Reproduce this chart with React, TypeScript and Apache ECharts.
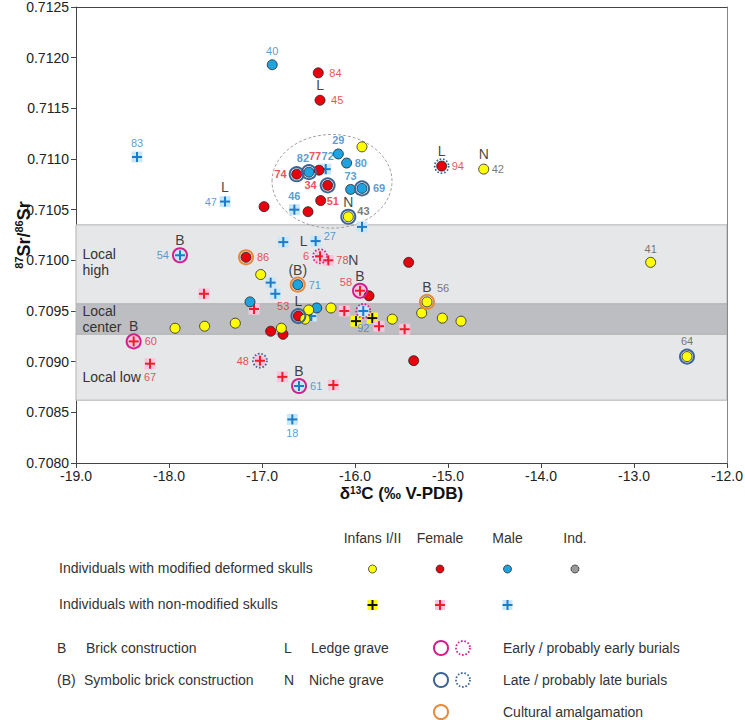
import React, { useEffect, useRef } from 'react';
import * as echarts from 'echarts';

type Pt = [number, number, string?];

// ---- data (x = δ13C, y = 87Sr/86Sr, optional sample id) ----
const yellowCircles: Pt[] = [
  [-15.925, 0.71112],
  [-16.072, 0.71043, '43'],
  [-14.616, 0.7109, '42'],
  [-17.014, 0.70986],
  [-17.935, 0.70933],
  [-17.617, 0.70935],
  [-17.287, 0.70938],
  [-16.792, 0.70933],
  [-15.226, 0.70959, '56'],
  [-16.498, 0.70951],
  [-16.538, 0.70942],
  [-16.258, 0.70953],
  [-15.599, 0.70942],
  [-15.283, 0.70948],
  [-15.061, 0.70943],
  [-14.86, 0.7094],
  [-12.821, 0.70998, '41'],
  [-12.43, 0.70905, '64'],
];

const redCircles: Pt[] = [
  [-16.978, 0.71053],
  [-16.395, 0.71185, '84'],
  [-16.376, 0.71158, '45'],
  [-16.387, 0.71089, '77'],
  [-16.627, 0.71085, '74'],
  [-16.294, 0.71074, '34'],
  [-16.369, 0.71059, '51'],
  [-16.505, 0.71048],
  [-15.068, 0.71093, '94'],
  [-17.172, 0.71003, '86'],
  [-15.423, 0.70998],
  [-15.849, 0.70965],
  [-16.609, 0.70945, '53'],
  [-16.907, 0.7093],
  [-16.774, 0.70927],
  [-15.369, 0.70901],
];

const blueCircles: Pt[] = [
  [-16.89, 0.71193, '40'],
  [-16.179, 0.71105, '29'],
  [-16.09, 0.71096, '80'],
  [-16.495, 0.71087, '82'],
  [-16.047, 0.7107, '73'],
  [-15.925, 0.71071, '69'],
  [-16.616, 0.70976, '71'],
  [-17.129, 0.70959],
  [-16.412, 0.70953],
];

const yellowCrosses: Pt[] = [
  [-15.989, 0.7094],
  [-15.814, 0.70943],
];

const redCrosses: Pt[] = [
  [-17.624, 0.70967],
  [-17.086, 0.70952],
  [-18.38, 0.7092, '60'],
  [-18.204, 0.70898, '67'],
  [-17.022, 0.70901, '48'],
  [-16.781, 0.70885],
  [-16.376, 0.71004, '6'],
  [-16.287, 0.71, '78'],
  [-15.946, 0.7097, '58'],
  [-16.115, 0.7095],
  [-15.742, 0.70935],
  [-15.466, 0.70932],
  [-16.233, 0.70877],
];

const blueCrosses: Pt[] = [
  [-18.344, 0.71102, '83'],
  [-17.398, 0.71058, '47'],
  [-16.315, 0.7109, '72'],
  [-16.652, 0.7105, '46'],
  [-15.925, 0.71033],
  [-17.882, 0.71005, '54'],
  [-16.771, 0.71018],
  [-16.907, 0.70978],
  [-16.857, 0.70967],
  [-16.423, 0.71019, '27'],
  [-15.911, 0.7095, '92'],
  [-16.602, 0.70876, '61'],
  [-16.674, 0.70843, '18'],
  [-16.47, 0.70945],
];

// burial chronology (sample ids)
const earlyIds = ['54', '60', '58', '61'];
const probEarlyIds = ['6', '92'];
const lateIds = ['82', '74', '34', '69', '43', '53', '64'];
const probLateIds = ['94', '48'];
const amalgamIds = ['86', '71', '56'];

// grave types (sample ids)
const brickIds = ['54', '60', '58', '61', '56'];
const symbolicBrickIds = ['71'];
const ledgeIds = ['47', '45', '94', '27', '53'];
const nicheIds = ['42', '43', '78'];

// cluster of samples enclosed by the dashed ellipse
const clusterIds = ['29', '80', '82', '77', '72', '74', '34', '73', '69', '51', '46', '43'];
const clusterEllipse = [-16.247, 0.71078, 0.645, 0.000462]; // cx, cy, rx, ry

// local ranges
const bandNames = ['Local\nhigh', 'Local\ncenter', 'Local low'];
const bandFrom = [0.70957, 0.70927, 0.70862];
const bandTo = [0.71035, 0.70957, 0.70927];

const X_MIN = -19, X_MAX = -12, X_STEP = 1;
const Y_MIN = 0.708, Y_MAX = 0.7125, Y_STEP = 0.0005;

// ---- presentation ----
const FONT = 'Arial, "Liberation Sans", Helvetica, sans-serif';
const C_YELLOW = '#ffff00';
const C_RED = '#e8000c';
const C_BLUE = '#1ea3e0';
const C_RED_X = '#ee1c2b';
const C_BLUE_X = '#1d7cc7';
const BG_RED_X = '#f9c5df';
const BG_BLUE_X = '#c9e7fb';
const C_EARLY = '#d51d8d';
const C_LATE = '#3e6597';
const C_AMAL = '#e9893a';

const labelPlace: Record<string, [string, number, number]> = {
  '40': ['top', 0, 0], '83': ['top', 0, 0], '47': ['left', 0, 0], '84': ['right', 3, 0],
  '45': ['right', 3, 0], '29': ['top', 0, 0], '80': ['right', 0, 0], '82': ['top', -6, -1],
  '77': ['top', -4, -1], '72': ['top', 2, 0], '74': ['left', -2, 0], '34': ['left', -3, 0],
  '73': ['top', 0, 0], '69': ['right', 3, 0], '51': ['right', -2, 0], '46': ['top', 0, 0],
  '43': ['right', 1, -6], '94': ['right', 2, 0], '42': ['right', 0, 0], '54': ['left', -3, 0],
  '86': ['right', 3, 0], '27': ['right', 0, -5], '6': ['left', -3, 0], '78': ['right', 0, 0],
  '71': ['right', 3, 0], '58': ['left', 0, -9], '56': ['right', 2, -14], '53': ['left', -1, -10],
  '92': ['bottom', 0, 3], '60': ['right', 3, 0], '67': ['bottom', 0, 0], '48': ['left', -3, 0],
  '61': ['right', 3, 0], '18': ['bottom', 0, 0], '41': ['top', 0, 0], '64': ['top', 0, -2],
};
const letterPlace: Record<string, [string, number, number]> = {
  '27': ['left', 0, 0],
  '78': ['right', 12, 0],
  '43': ['top', 0, 0],
};

const allPts: Pt[] = [
  ...yellowCircles, ...redCircles, ...blueCircles,
  ...yellowCrosses, ...redCrosses, ...blueCrosses,
];
const byId: Record<string, [number, number]> = {};
allPts.forEach((p) => { if (p[2]) byId[p[2]] = [p[0], p[1]]; });

function circleSeries(pts: Pt[], color: string, z: number) {
  return {
    type: 'scatter', z, silent: true,
    symbol: 'circle', symbolSize: 10,
    itemStyle: { color, borderColor: '#222', borderWidth: 0.8, opacity: 1 },
    data: pts.map((p) => [p[0], p[1]]),
  };
}

function crossSeries(pts: Pt[], bg: string, fg: string, z: number) {
  return {
    type: 'custom', coordinateSystem: 'cartesian2d', z, silent: true,
    encode: { x: 0, y: 1 },
    data: pts.map((p) => [p[0], p[1]]),
    renderItem: (_params: any, api: any) => {
      const c = api.coord([api.value(0), api.value(1)]);
      return {
        type: 'group',
        children: [
          { type: 'rect', shape: { x: c[0] - 5.5, y: c[1] - 5.5, width: 11, height: 11 }, style: { fill: bg } },
          { type: 'rect', shape: { x: c[0] - 5, y: c[1] - 1, width: 10, height: 2 }, style: { fill: fg } },
          { type: 'rect', shape: { x: c[0] - 1, y: c[1] - 5, width: 2, height: 10 }, style: { fill: fg } },
        ],
      };
    },
  };
}

function ringSeries(ids: string[], color: string, dotted: boolean) {
  return {
    type: 'scatter', z: 5, silent: true,
    symbol: 'circle', symbolSize: 14,
    itemStyle: {
      color: 'rgba(0,0,0,0)', borderColor: color, borderWidth: dotted ? 1.8 : 2,
      borderType: dotted ? [1.6, 1.8] : 'solid', opacity: 1,
    },
    data: ids.map((id) => byId[id]),
  };
}

function labelItems(pts: Pt[], color: string) {
  return pts.filter((p) => p[2]).map((p) => {
    const id = p[2] as string;
    const pl = labelPlace[id] || ['top', 0, 0];
    return {
      value: [p[0], p[1]],
      label: {
        show: true, formatter: id, position: pl[0], offset: [pl[1], pl[2]], distance: 3,
        color, fontSize: 11, fontFamily: FONT,
        fontWeight: clusterIds.includes(id) ? 'bold' : 'normal',
      },
    };
  });
}

function letterItems(ids: string[], text: string) {
  return ids.map((id) => {
    const pl = letterPlace[id] || ['top', 0, 0];
    return {
      value: byId[id],
      label: {
        show: true, formatter: text, position: pl[0], offset: [pl[1], pl[2]], distance: 3,
        color: '#111', fontSize: 14, fontFamily: FONT,
      },
    };
  });
}

function legendGraphics() {
  const g: any[] = [];
  const txt = (text: string, x: number, y: number, align = 'left') => g.push({
    type: 'text', x, y, silent: true,
    style: { text, fontSize: 14, fontFamily: FONT, fill: '#333', align, verticalAlign: 'middle' },
  });
  const circ = (cx: number, cy: number, fill: string) => g.push({
    type: 'circle', shape: { cx, cy, r: 4 }, style: { fill, stroke: '#333', lineWidth: 0.8 },
  });
  const cross = (cx: number, cy: number, bg: string, fg: string) => {
    g.push({ type: 'rect', shape: { x: cx - 5, y: cy - 5, width: 10, height: 10 }, style: { fill: bg } });
    g.push({ type: 'rect', shape: { x: cx - 5, y: cy - 1, width: 10, height: 2 }, style: { fill: fg } });
    g.push({ type: 'rect', shape: { x: cx - 1, y: cy - 5, width: 2, height: 10 }, style: { fill: fg } });
  };
  const ring = (cx: number, cy: number, stroke: string, dotted: boolean) => g.push({
    type: 'circle', shape: { cx, cy, r: 7 },
    style: { fill: 'none', stroke, lineWidth: dotted ? 1.8 : 2, lineDash: dotted ? [1.6, 1.8] : null },
  });
  const cols = [372.5, 440, 507.5, 575];
  txt('Infans I/II', cols[0], 538, 'center');
  txt('Female', cols[1], 538, 'center');
  txt('Male', cols[2], 538, 'center');
  txt('Ind.', cols[3], 538, 'center');
  txt('Individuals with modified deformed skulls', 59, 568);
  circ(cols[0], 569, C_YELLOW);
  circ(cols[1], 569, C_RED);
  circ(cols[2], 569, C_BLUE);
  circ(cols[3], 569, '#9a9a9a');
  txt('Individuals with non-modified skulls', 59, 604);
  cross(cols[0], 605, C_YELLOW, '#111');
  cross(cols[1], 605, BG_RED_X, C_RED_X);
  cross(cols[2], 605, BG_BLUE_X, C_BLUE_X);
  txt('B', 57, 648);
  txt('Brick construction', 86, 648);
  txt('L', 284, 648);
  txt('Ledge grave', 311, 648);
  ring(441, 648, C_EARLY, false);
  ring(463, 648, C_EARLY, true);
  txt('Early / probably early burials', 503, 648);
  txt('(B)', 57, 680);
  txt('Symbolic brick construction', 84, 680);
  txt('N', 284, 680);
  txt('Niche grave', 309, 680);
  ring(441, 680, C_LATE, false);
  ring(463, 680, C_LATE, true);
  txt('Late / probably late burials', 503, 680);
  ring(441, 712, C_AMAL, false);
  txt('Cultural amalgamation', 503, 712);
  return g;
}

export default function App() {
  const ref = useRef<HTMLDivElement>(null);
  useEffect(() => {
    if (!ref.current) return;
    const chart = echarts.init(ref.current, undefined, { renderer: 'svg' });
    const bandColors = ['#e6e7e8', '#bdbec1', '#e6e7e8'];
    const bandOffsets = [[0, -2], [0, 0], [0, 10]];
    const axisText = { color: '#222', fontSize: 14, fontFamily: FONT };
    chart.setOption({
      animation: false,
      textStyle: { fontFamily: FONT },
      grid: { left: 76, right: 18, top: 7, bottom: 257, containLabel: false, outerBoundsMode: 'none' },
      xAxis: [
        {
          type: 'value', min: X_MIN, max: X_MAX, interval: X_STEP,
          axisLine: { lineStyle: { color: '#444' } },
          axisTick: { show: true, length: 5, lineStyle: { color: '#444' } },
          splitLine: { show: false },
          axisLabel: { ...axisText, margin: 6, formatter: (v: number) => v.toFixed(1) },
          name: '{b|δ}{s|13}{b|C (‰ V-PDB)}',
          nameLocation: 'middle', nameGap: 22, nameMoveOverlap: false,
          nameTextStyle: {
            rich: {
              b: { fontSize: 17, fontWeight: 'bold', color: '#111', fontFamily: FONT, lineHeight: 17 },
              s: { fontSize: 10, fontWeight: 'bold', color: '#111', fontFamily: FONT, verticalAlign: 'top', lineHeight: 17 },
            },
          },
        },
        {
          type: 'value', min: X_MIN, max: X_MAX, position: 'top', z: 10,
          axisLine: { show: true, lineStyle: { color: '#444' } },
          axisTick: { show: false }, axisLabel: { show: false }, splitLine: { show: false },
        },
      ],
      yAxis: [
        {
          type: 'value', min: Y_MIN, max: Y_MAX, interval: Y_STEP,
          axisLine: { show: true, lineStyle: { color: '#444' } },
          axisTick: { show: true, length: 5, lineStyle: { color: '#444' } },
          splitLine: { show: false },
          axisLabel: { ...axisText, lineHeight: 12, margin: 7, formatter: (v: number) => v.toFixed(4) },
          name: '{s|87}{b|Sr/}{s|86}{b|Sr}',
          nameLocation: 'middle', nameGap: 41, nameRotate: 90, nameMoveOverlap: false,
          nameTextStyle: {
            rich: {
              b: { fontSize: 18, fontWeight: 'bold', color: '#111', fontFamily: FONT, lineHeight: 22 },
              s: { fontSize: 11, fontWeight: 'bold', color: '#111', fontFamily: FONT, verticalAlign: 'top', lineHeight: 22 },
            },
          },
        },
        {
          type: 'value', min: Y_MIN, max: Y_MAX, position: 'right', z: 10,
          axisLine: { show: true, lineStyle: { color: '#888' } },
          axisTick: { show: false }, axisLabel: { show: false }, splitLine: { show: false },
        },
      ],
      series: [
        {
          type: 'scatter', z: 1, data: [], silent: true,
          markArea: {
            silent: true,
            data: bandNames.map((name, i) => [
              {
                yAxis: bandFrom[i],
                itemStyle: { color: bandColors[i], borderColor: '#b3b3b3', borderWidth: 1 },
                label: {
                  show: true, formatter: name, position: 'insideLeft', distance: 7,
                  offset: bandOffsets[i], color: '#333', fontSize: 14, lineHeight: 16, fontFamily: FONT,
                },
              },
              { yAxis: bandTo[i] },
            ]),
          },
        },
        {
          type: 'custom', coordinateSystem: 'cartesian2d', z: 2, silent: true,
          encode: { x: 0, y: 1 },
          data: [clusterEllipse],
          renderItem: (_p: any, api: any) => {
            const c = api.coord([api.value(0), api.value(1)]);
            const s = api.size([api.value(2), api.value(3)]);
            return {
              type: 'ellipse',
              shape: { cx: c[0], cy: c[1], rx: s[0], ry: s[1] },
              style: { fill: 'none', stroke: '#8a8a8a', lineWidth: 0.8, lineDash: [3, 2] },
            };
          },
        },
        circleSeries(redCircles, C_RED, 3),
        circleSeries(blueCircles, C_BLUE, 3),
        crossSeries(yellowCrosses, C_YELLOW, '#111', 3),
        crossSeries(redCrosses, BG_RED_X, C_RED_X, 3),
        crossSeries(blueCrosses, BG_BLUE_X, C_BLUE_X, 3),
        circleSeries(yellowCircles, C_YELLOW, 4),
        ringSeries(earlyIds, C_EARLY, false),
        ringSeries(probEarlyIds, C_EARLY, true),
        ringSeries(lateIds, C_LATE, false),
        ringSeries(probLateIds, C_LATE, true),
        ringSeries(amalgamIds, C_AMAL, false),
        {
          type: 'scatter', z: 6, silent: true, symbol: 'circle', symbolSize: 10,
          itemStyle: { color: 'rgba(0,0,0,0)' },
          data: [
            ...labelItems(yellowCircles, '#555'),
            ...labelItems(redCircles, '#e3262b'),
            ...labelItems(blueCircles, '#2f84c6'),
            ...labelItems(redCrosses, '#e3262b'),
            ...labelItems(blueCrosses, '#2f84c6'),
          ],
        },
        {
          type: 'scatter', z: 6, silent: true, symbol: 'circle', symbolSize: 10,
          itemStyle: { color: 'rgba(0,0,0,0)' },
          data: [
            ...letterItems(brickIds, 'B'),
            ...letterItems(symbolicBrickIds, '(B)'),
            ...letterItems(ledgeIds, 'L'),
            ...letterItems(nicheIds, 'N'),
          ],
        },
      ],
      graphic: legendGraphics(),
    });
    return () => chart.dispose();
  }, []);
  return (
    <div
      ref={ref}
      style={{ position: 'absolute', left: 0, top: 0, width: 745, height: 720, background: '#fff' }}
    />
  );
}
